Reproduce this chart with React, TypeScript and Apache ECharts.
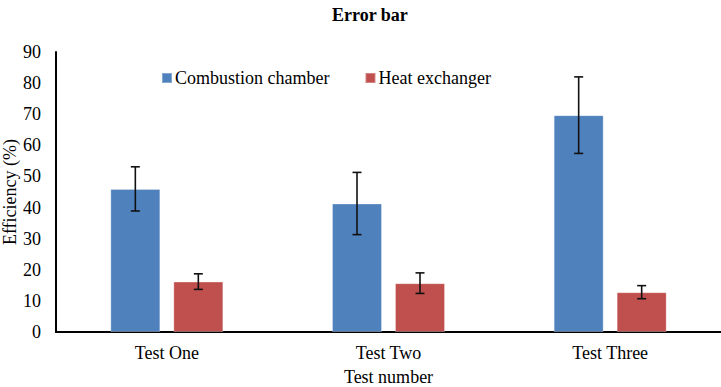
import React, { useEffect, useRef } from "react";
import * as echarts from "echarts";

const categories = ["Test One", "Test Two", "Test Three"];
const combustion = [46.0, 41.3, 69.7];
const combustionErr = [7.1, 10.0, 12.3];
const heat = [16.2, 15.7, 12.8];
const heatErr = [2.5, 3.3, 2.1];
const seriesNames = ["Combustion chamber", "Heat exchanger"];

const FONT = "'Liberation Serif', 'Times New Roman', serif";
const BAR_W = 50;
const GAP_PX = 13;

export default function App() {
  const ref = useRef<HTMLDivElement>(null);
  useEffect(() => {
    if (!ref.current) return;
    const chart = echarts.init(ref.current, undefined, { renderer: "svg" });
    const offset = (BAR_W + GAP_PX) / 2;
    const makeErr = (means: number[], errs: number[], dir: number, name: string) => ({
      type: "custom",
      name: name + " error",
      silent: true,
      z: 10,
      data: means.map((m, i) => [i, m - errs[i], m + errs[i]]),
      renderItem: (params: any, api: any) => {
        const xi = api.value(0);
        const lo = api.coord([xi, api.value(1)]);
        const hi = api.coord([xi, api.value(2)]);
        const x = lo[0] + dir * offset;
        const style = { stroke: "#111", lineWidth: 1.6 };
        return {
          type: "group",
          children: [
            { type: "line", shape: { x1: x, y1: lo[1], x2: x, y2: hi[1] }, style },
            { type: "line", shape: { x1: x - 4.5, y1: hi[1], x2: x + 4.5, y2: hi[1] }, style },
            { type: "line", shape: { x1: x - 4.5, y1: lo[1], x2: x + 4.5, y2: lo[1] }, style },
          ],
        };
      },
    });
    chart.setOption({
      animation: false,
      backgroundColor: "#ffffff",
      title: {
        text: "Error bar",
        left: 327,
        top: 1,
        textStyle: { fontFamily: FONT, fontSize: 18, fontWeight: "bold", color: "#000" },
      },
      legend: {
        data: seriesNames,
        left: 156,
        top: 64,
        itemWidth: 10,
        itemHeight: 10,
        itemGap: 35,
        icon: "rect",
        textStyle: { fontFamily: FONT, fontSize: 18, color: "#000", padding: [0, 0, 0, -2] },
      },
      grid: { left: 56, right: 0, top: 52, bottom: 55, containLabel: false, outerBoundsMode: "none" },
      xAxis: {
        type: "category",
        data: categories,
        name: "Test number",
        nameLocation: "middle",
        nameGap: 36,
        nameMoveOverlap: false,
        nameTextStyle: { fontFamily: FONT, fontSize: 18, color: "#000" },
        axisLine: { lineStyle: { color: "#000", width: 2 } },
        axisTick: { show: false },
        axisLabel: { fontFamily: FONT, fontSize: 18, color: "#000", margin: 12 },
      },
      yAxis: {
        type: "value",
        min: 0,
        max: 90,
        interval: 10,
        name: "Efficiency (%)",
        nameLocation: "middle",
        nameGap: 37,
        nameMoveOverlap: false,
        nameTextStyle: { fontFamily: FONT, fontSize: 18, color: "#000" },
        axisLine: { show: true, lineStyle: { color: "#000", width: 2 } },
        axisTick: { show: false },
        splitLine: { show: false },
        axisLabel: { fontFamily: FONT, fontSize: 18, color: "#000", margin: 15 },
      },
      series: [
        {
          type: "bar",
          name: seriesNames[0],
          data: combustion,
          barWidth: BAR_W,
          barGap: (GAP_PX / BAR_W) * 100 + "%",
          itemStyle: { color: "#4F81BD", borderColor: "rgba(255,255,255,0.3)", borderWidth: 1 },
        },
        {
          type: "bar",
          name: seriesNames[1],
          data: heat,
          barWidth: BAR_W,
          barGap: (GAP_PX / BAR_W) * 100 + "%",
          itemStyle: { color: "#C0504D", borderColor: "rgba(255,255,255,0.3)", borderWidth: 1 },
        },
        makeErr(combustion, combustionErr, -1, seriesNames[0]),
        makeErr(heat, heatErr, 1, seriesNames[1]),
      ],
    });
    return () => chart.dispose();
  }, []);
  return (
    <div
      ref={ref}
      style={{ position: "fixed", left: 0, top: 0, width: 721, height: 387, background: "#fff" }}
    />
  );
}
